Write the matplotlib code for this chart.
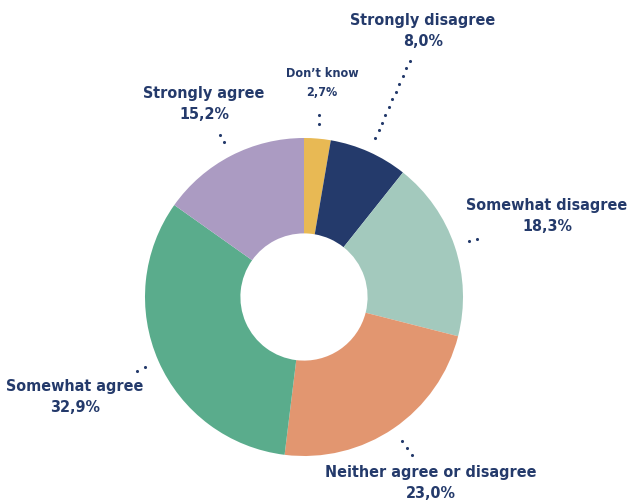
import numpy as np
import matplotlib.pyplot as plt

# Survey responses, clockwise from 12 o'clock
labels = ["Don’t know", "Strongly disagree", "Somewhat disagree",
          "Neither agree or disagree", "Somewhat agree", "Strongly agree"]
shares = [2.7, 8.0, 18.3, 23.0, 32.9, 15.2]
shown = ["2,7%", "8,0%", "18,3%", "23,0%", "32,9%", "15,2%"]
colors = ["#e8b954", "#243a6b", "#a3c9bd", "#e29670", "#5aac8c", "#ab9bc2"]

navy = "#243a6b"
W, H = 627, 501
cx, cy, R = 304, H - 297, 159

# outer end of each dotted leader, label centre (pixels, y from top) and size
leader_end = [184, 262, 184, 192, 184, 184]
label_xy = [(322, 83), (423, 31), (547, 216), (431, 483), (75, 397), (204, 104)]
label_size = [9, 11.5, 11.5, 11.5, 11.5, 11.5]
label_gap = [1.55, 1.45, 1.45, 1.45, 1.45, 1.45]

fig = plt.figure(figsize=(W / 100, H / 100), dpi=100)
ax = fig.add_axes([0, 0, 1, 1])

wedges, _ = ax.pie(shares, colors=colors, startangle=90, counterclock=False,
                   center=(cx, cy), radius=R,
                   wedgeprops=dict(width=R * 0.6, linewidth=0))
ax.set_xlim(0, W)
ax.set_ylim(0, H)
ax.set_aspect("equal")
ax.axis("off")

total = sum(shares)
start = 90.0
for i, s in enumerate(shares):
    mid = np.deg2rad(start - s / total * 360 / 2)
    start -= s / total * 360
    rr = np.arange(174, leader_end[i] + 1, 8.5)
    ax.scatter(cx + rr * np.cos(mid), cy + rr * np.sin(mid), s=5,
               color=navy, linewidths=0, zorder=3)
    lx, ly = label_xy[i]
    ax.text(lx, H - ly, f"{labels[i]}\n{shown[i]}", ha="center", va="center",
            color=navy, fontsize=label_size[i], fontweight="bold",
            family="DejaVu Sans", fontstretch="condensed",
            linespacing=label_gap[i])

fig.savefig("out.png", dpi=100)
